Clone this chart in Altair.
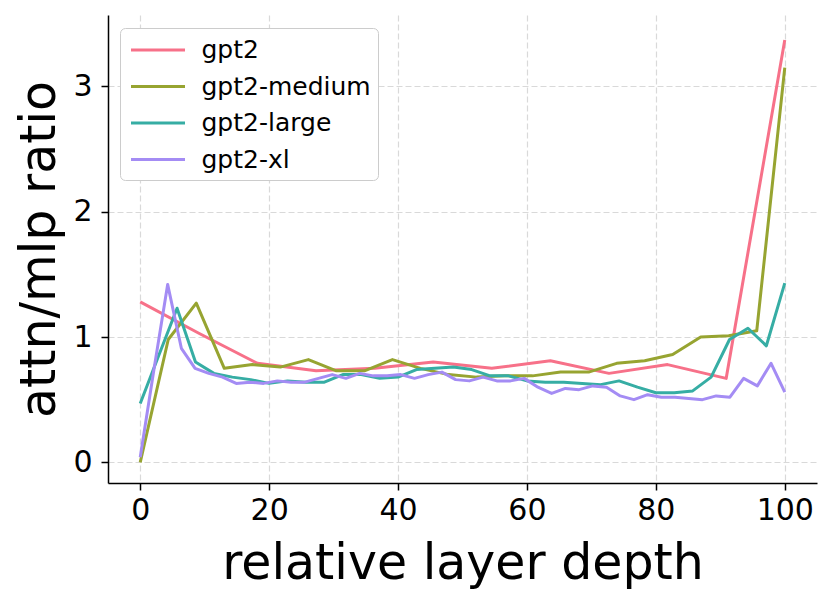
import altair as alt
import pandas as pd

models = ["gpt2", "gpt2-medium", "gpt2-large", "gpt2-xl"]
colors = ["#f77189", "#97a431", "#36ada4", "#a48cf4"]

gpt2 = [1.28, 1.03, 0.79, 0.73, 0.75, 0.80, 0.75, 0.81, 0.71, 0.78, 0.67, 3.37]
gpt2_medium = [0.00, 0.98, 1.27, 0.75, 0.78, 0.76, 0.82, 0.73, 0.73, 0.82, 0.75, 0.70,
               0.68, 0.69, 0.69, 0.72, 0.72, 0.79, 0.81, 0.86, 1.00, 1.01, 1.05, 3.15]
gpt2_large = [0.47, 0.85, 1.23, 0.80, 0.71, 0.68, 0.66, 0.63, 0.65, 0.64, 0.64, 0.70,
              0.70, 0.67, 0.68, 0.74, 0.75, 0.76, 0.74, 0.69, 0.69, 0.65, 0.64, 0.64,
              0.63, 0.62, 0.65, 0.60, 0.555, 0.555, 0.57, 0.68, 0.98, 1.07, 0.93, 1.43]
gpt2_xl = [0.04, 0.74, 1.42, 0.91, 0.75, 0.71, 0.68, 0.63, 0.64, 0.63, 0.65, 0.64,
           0.64, 0.67, 0.70, 0.67, 0.71, 0.69, 0.69, 0.70, 0.67, 0.70, 0.72, 0.66,
           0.65, 0.68, 0.65, 0.65, 0.67, 0.60, 0.55, 0.59, 0.58, 0.61, 0.60, 0.53,
           0.50, 0.54, 0.52, 0.52, 0.51, 0.50, 0.53, 0.52, 0.67, 0.61, 0.79, 0.56]

x_ticks = [0, 20, 40, 60, 80, 100]
y_ticks = [0, 1, 2, 3]

series = [gpt2, gpt2_medium, gpt2_large, gpt2_xl]
rows = []
for k, (name, vals) in enumerate(zip(models, series)):
    n = len(vals)
    for i, v in enumerate(vals):
        rows.append({"model": name, "depth": 100.0 * i / (n - 1), "ratio": v, "k": k})
df = pd.DataFrame(rows)

FONT = "DejaVu Sans"

chart = alt.Chart(df).mark_line(strokeWidth=3, strokeJoin="round").encode(
    x=alt.X("depth:Q",
            scale=alt.Scale(domain=[-5, 105], nice=False, zero=False),
            axis=alt.Axis(values=x_ticks, title="relative layer depth",
                          labelPadding=5, titlePadding=14)),
    y=alt.Y("ratio:Q",
            scale=alt.Scale(domain=[-0.165, 3.57], nice=False, zero=False),
            axis=alt.Axis(values=y_ticks, title="attn/mlp ratio",
                          labelPadding=9, titlePadding=8)),
    color=alt.Color("model:N",
                    scale=alt.Scale(domain=models, range=colors),
                    legend=alt.Legend(orient="none", legendX=12, legendY=13,
                                      title=None, fillColor="white",
                                      strokeColor="#cccccc", cornerRadius=5,
                                      padding=7, labelFontSize=25, labelFont=FONT,
                                      labelColor="black", labelLimit=400,
                                      symbolType="M-2,0L2,0",
                                      symbolSize=729, symbolStrokeWidth=3,
                                      symbolOffset=16,
                                      labelOffset=28.5, rowPadding=8.5)),
    detail="k:O",
).properties(
    width=709, height=468,
    autosize=alt.AutoSizeParams(type="none"),
    padding={"left": 100, "top": 7, "right": 5, "bottom": 111},
).configure_view(
    stroke=None
).configure_axis(
    domainColor="black", domainWidth=1.5,
    tickColor="black", tickSize=7, tickWidth=1.5,
    labelFont=FONT, labelFontSize=30, labelColor="black",
    titleFont=FONT, titleFontSize=49, titleFontWeight="normal", titleColor="black",
    grid=True, gridColor="#d9d9d9", gridDash=[6, 3], gridWidth=1.2,
)

chart.save("out.html", embed_options={"renderer": "svg", "actions": False})
